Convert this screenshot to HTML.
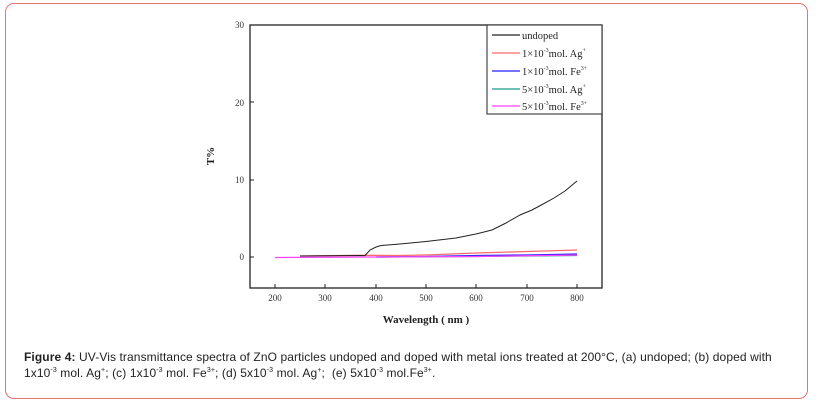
<!DOCTYPE html>
<html><head><style>
body{margin:0;width:816px;height:405px;background:#fff;overflow:hidden;position:relative;font-family:"Liberation Sans",sans-serif}
.frame{position:absolute;left:5px;top:3px;width:803px;height:396px;border:1.5px solid #e57373;border-radius:9px;box-sizing:border-box}
.cap{position:absolute;left:24px;top:349px;font-size:12px;line-height:16px;color:#222;letter-spacing:0.1px;white-space:nowrap}
.cap sup{font-size:7px;vertical-align:5px;line-height:0}
svg text{font-family:"Liberation Serif",serif}
</style></head><body>
<div class="frame"></div>
<svg width="816" height="345" style="position:absolute;left:0;top:0">
<rect x="250" y="25" width="352" height="263" fill="none" stroke="#222" stroke-width="1.3"/>
<g font-size="9" fill="#333" text-anchor="end">
<text x="244" y="28">30</text><text x="244" y="106">20</text><text x="244" y="183">10</text><text x="244" y="260">0</text>
</g>
<g stroke="#222" stroke-width="1">
<line x1="250" y1="25" x2="254" y2="25"/><line x1="250" y1="102" x2="254" y2="102"/><line x1="250" y1="180" x2="254" y2="180"/><line x1="250" y1="257" x2="254" y2="257"/>
<line x1="275" y1="288" x2="275" y2="284"/><line x1="325" y1="288" x2="325" y2="284"/><line x1="376" y1="288" x2="376" y2="284"/><line x1="426" y1="288" x2="426" y2="284"/><line x1="476" y1="288" x2="476" y2="284"/><line x1="527" y1="288" x2="527" y2="284"/><line x1="577" y1="288" x2="577" y2="284"/>
</g>
<g font-size="9" fill="#333" text-anchor="middle">
<text x="275" y="301">200</text><text x="325" y="301">300</text><text x="376" y="301">400</text><text x="426" y="301">500</text><text x="476" y="301">600</text><text x="527" y="301">700</text><text x="577" y="301">800</text>
</g>
<text x="426" y="323" font-size="11" font-weight="bold" text-anchor="middle" fill="#222">Wavelength ( nm )</text>
<text transform="translate(214,156) rotate(-90)" font-size="11" font-weight="bold" text-anchor="middle" fill="#222">T%</text>
<polyline fill="none" stroke="#ff6b6b" stroke-width="1.3" points="300,256 360,255.3 400,255.5 426,255 476,253 527,251.5 577,250"/>
<polyline fill="none" stroke="#2020ff" stroke-width="1.3" points="376,257 426,256.5 476,255.5 527,255 577,254"/>
<polyline fill="none" stroke="#1a9a8a" stroke-width="1.2" points="376,257 476,256.5 577,255.5"/>
<polyline fill="none" stroke="#ff40ff" stroke-width="1.3" points="275,257.5 376,257 476,256.5 577,255"/>
<polyline fill="none" stroke="#222" stroke-width="1" points="300,256 360,255.5 365,255.6 370,250 376,247 381,245.5 400,244 426,241.5 456,238 476,234 492,230 506,223 520,215 532,210 545,203 554,198 565,191 577,181"/>
<rect x="487" y="25" width="115" height="89" fill="#fff" stroke="#222" stroke-width="1"/>
<g stroke-width="1.2">
<line x1="492" y1="35" x2="520" y2="35" stroke="#222"/>
<line x1="492" y1="53" x2="520" y2="53" stroke="#ff6b6b"/>
<line x1="492" y1="71" x2="520" y2="71" stroke="#2020ff"/>
<line x1="492" y1="89" x2="520" y2="89" stroke="#1a9a8a"/>
<line x1="492" y1="106" x2="520" y2="106" stroke="#ff40ff"/>
</g>
<g font-size="10.5" fill="#222">
<text x="522" y="39">undoped</text>
<text x="522" y="57">1×10<tspan font-size="6" dy="-5">-3</tspan><tspan dy="5">mol. Ag</tspan><tspan font-size="6" dy="-5">+</tspan></text>
<text x="522" y="75">1×10<tspan font-size="6" dy="-5">-3</tspan><tspan dy="5">mol. Fe</tspan><tspan font-size="6" dy="-5">3+</tspan></text>
<text x="522" y="93">5×10<tspan font-size="6" dy="-5">-3</tspan><tspan dy="5">mol. Ag</tspan><tspan font-size="6" dy="-5">+</tspan></text>
<text x="522" y="110">5×10<tspan font-size="6" dy="-5">-3</tspan><tspan dy="5">mol. Fe</tspan><tspan font-size="6" dy="-5">3+</tspan></text>
</g>
</svg>
<div class="cap"><b>Figure 4:</b> UV-Vis transmittance spectra of ZnO particles undoped and doped with metal ions treated at 200°C, (a) undoped; (b) doped with<br>1x10<sup>-3</sup> mol. Ag<sup>+</sup>; (c) 1x10<sup>-3</sup> mol. Fe<sup>3+</sup>; (d) 5x10<sup>-3</sup> mol. Ag<sup>+</sup>;&nbsp; (e) 5x10<sup>-3</sup> mol.Fe<sup>3+</sup>.</div>
</body></html>
